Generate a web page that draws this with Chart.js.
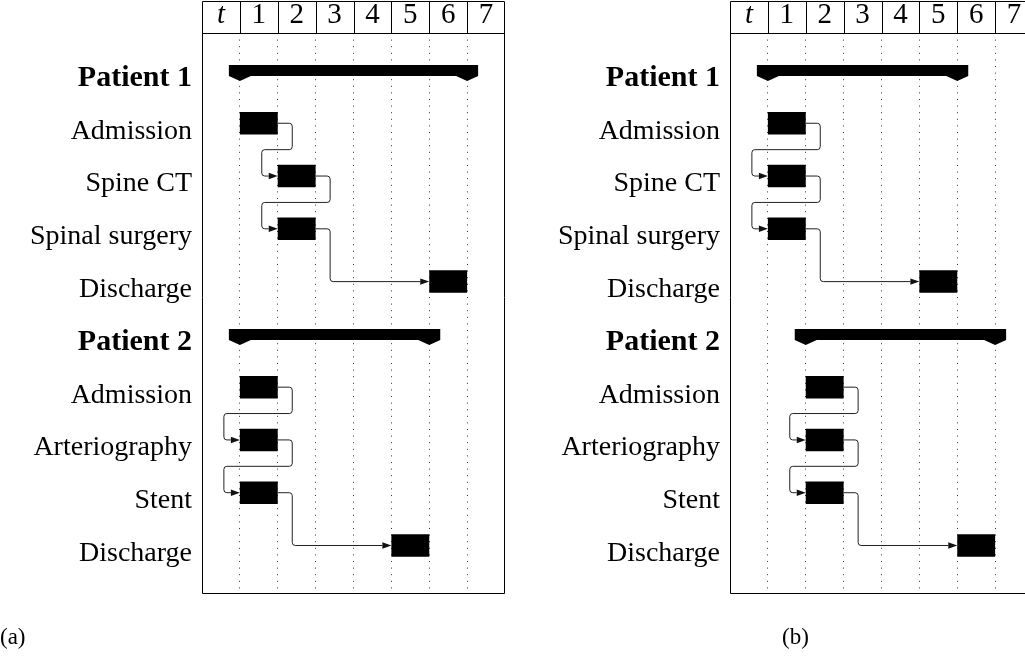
<!DOCTYPE html>
<html>
<head>
<meta charset="utf-8">
<script src="https://cdn.jsdelivr.net/npm/chart.js@4.4.1/dist/chart.umd.min.js"></script>
<style>
  html, body { margin: 0; padding: 0; background: #fff; overflow: hidden; }
  body { width: 1025px; height: 659px; position: relative; }
  canvas { position: absolute; top: 0; }
  #chartA { left: 0; }
  #chartB { left: 528px; }
  .cap { position: absolute; top: 624px; font-family: 'Liberation Serif', serif; font-size: 23px; color: #000; }
</style>
</head>
<body>
<canvas id="chartA" width="515" height="659"></canvas>
<canvas id="chartB" width="515" height="659"></canvas>
<div class="cap" style="left:0">(a)</div>
<div class="cap" style="left:782px">(b)</div>
<script>
// rows of the gantt, top to bottom
const rowLabels = ['Patient 1', 'Admission', 'Spine CT', 'Spinal surgery', 'Discharge',
                   'Patient 2', 'Admission', 'Arteriography', 'Stent', 'Discharge'];
const headerLabels = ['t', '1', '2', '3', '4', '5', '6', '7'];
const groupRows = [0, 5];

// panel (a)
const taskStartA = [null, 1, 2, 2, 6, null, 1, 1, 1, 5];
const taskEndA   = [null, 2, 3, 3, 7, null, 2, 2, 2, 6];
const groupSpanA = [[1, 7], [1, 6]];

// panel (b)
const taskStartB = [null, 1, 1, 1, 5, null, 2, 2, 2, 6];
const taskEndB   = [null, 2, 2, 2, 6, null, 3, 3, 3, 7];
const groupSpanB = [[1, 6], [2, 7]];

// arrows: from one task row to the next one
const links = [[1, 2], [2, 3], [3, 4], [6, 7], [7, 8], [8, 9]];

const FONT = 'Liberation Serif';
const crisp = v => Math.round(v) + 0.5;

function drawLink(ctx, a, b) {
  const x1 = Math.max(a.x, a.base), y1 = a.y;
  const x2 = Math.min(b.x, b.base), y2 = b.y;
  const out = 14.5, back = 16, r = 3, head = 9;
  const xr = x1 + out;
  const pts = [[x1, y1], [xr, y1]];
  if (x2 - xr > 10) {
    pts.push([xr, y2]);
  } else {
    const ym = (y1 + y2) / 2;
    pts.push([xr, ym], [x2 - back, ym], [x2 - back, y2]);
  }
  pts.push([x2 - head, y2]);
  ctx.beginPath();
  ctx.moveTo(pts[0][0], pts[0][1]);
  for (let i = 1; i < pts.length - 1; i++) {
    ctx.arcTo(pts[i][0], pts[i][1], pts[i + 1][0], pts[i + 1][1], r);
  }
  ctx.lineTo(pts[pts.length - 1][0], pts[pts.length - 1][1]);
  ctx.stroke();
  ctx.beginPath();
  ctx.moveTo(x2, y2);
  ctx.lineTo(x2 - head, y2 - 3.2);
  ctx.lineTo(x2 - head, y2 + 3.2);
  ctx.closePath();
  ctx.fill();
}

const ganttDeco = {
  id: 'ganttDeco',
  afterDatasetsDraw(chart) {
    const ctx = chart.ctx;
    const area = chart.chartArea;
    const xs = chart.scales.x;
    const head = chart.scales.xh;
    ctx.save();
    ctx.strokeStyle = '#000';
    ctx.fillStyle = '#000';
    ctx.lineWidth = 1;

    // outer frame and header cells
    const L = crisp(area.left), R = crisp(area.right - 1);
    const T = crisp(head.top), H = crisp(area.top), B = crisp(area.bottom);
    ctx.beginPath();
    ctx.rect(L, T, R - L, B - T);
    ctx.moveTo(L, H); ctx.lineTo(R, H);
    for (let i = 1; i < headerLabels.length; i++) {
      const x = crisp(xs.getPixelForValue(i));
      ctx.moveTo(x, T); ctx.lineTo(x, H);
    }
    ctx.stroke();

    // group bars: widen and add the little pointers at both ends
    const gMeta = chart.getDatasetMeta(1);
    gMeta.data.forEach(el => {
      const s = Math.min(el.x, el.base), e = Math.max(el.x, el.base);
      const top = el.y - el.height / 2, bot = el.y + el.height / 2;
      const ext = 11, drop = 5;
      ctx.beginPath();
      ctx.moveTo(s - ext, top);
      ctx.lineTo(e + ext, top);
      ctx.lineTo(e + ext, bot);
      ctx.lineTo(e, bot + drop);
      ctx.lineTo(e - ext, bot);
      ctx.lineTo(s + ext, bot);
      ctx.lineTo(s, bot + drop);
      ctx.lineTo(s - ext, bot);
      ctx.closePath();
      ctx.fill();
    });

    // arrows between tasks
    const tMeta = chart.getDatasetMeta(0);
    const byRow = {};
    tMeta.data.forEach((el, k) => { byRow[chart.data.datasets[0].data[k].y] = el; });
    ctx.strokeStyle = '#222';
    ctx.fillStyle = '#111';
    links.forEach(([a, b]) => {
      if (byRow[a] && byRow[b]) drawLink(ctx, byRow[a], byRow[b]);
    });
    ctx.restore();
  }
};

function makeChart(id, starts, ends, spans) {
  const taskData = [];
  starts.forEach((s, i) => { if (s !== null) taskData.push({ y: i, x: [s, ends[i]] }); });
  const groupData = spans.map((sp, k) => ({ y: groupRows[k], x: sp }));

  return new Chart(document.getElementById(id), {
    type: 'bar',
    data: {
      datasets: [
        { label: 'tasks', data: taskData, backgroundColor: '#000', borderWidth: 0,
          grouped: false, barPercentage: 1, maxBarThickness: 22.5 },
        { label: 'groups', data: groupData, backgroundColor: '#000', borderWidth: 0,
          grouped: false, barPercentage: 1, maxBarThickness: 11 }
      ]
    },
    options: {
      indexAxis: 'y',
      responsive: false,
      animation: false,
      layout: { padding: { top: 1, right: 10, bottom: 66, left: 0 } },
      plugins: { legend: { display: false }, tooltip: { enabled: false } },
      scales: {
        y: {
          type: 'linear', reverse: true, min: -0.71, max: 9.9, offset: false,
          afterBuildTicks: s => { s.ticks = rowLabels.map((_, i) => ({ value: i })); },
          afterFit: s => { s.width = 202; },
          grid: { display: false, drawTicks: false, offset: false },
          border: { display: false },
          ticks: {
            autoSkip: false, padding: 10, labelOffset: 8, color: '#000',
            font: c => groupRows.includes(c.index)
              ? { family: FONT, size: 30, weight: 'bold' }
              : { family: FONT, size: 28, weight: 'normal' },
            callback: v => rowLabels[v]
          }
        },
        x: {
          type: 'linear', position: 'bottom', min: 0, max: 8,
          afterBuildTicks: s => { s.ticks = headerLabels.slice(1).map((_, i) => ({ value: i + 1 })); },
          afterFit: s => { s.height = 0; },
          ticks: { display: false },
          grid: { color: 'rgba(0,0,0,0.8)', lineWidth: 1, drawTicks: false },
          border: { display: false, dash: [1, 5.6] }
        },
        xh: {
          type: 'linear', axis: 'x', position: 'top', min: 0, max: 8,
          afterBuildTicks: s => { s.ticks = headerLabels.map((_, i) => ({ value: i + 0.5 })); },
          afterFit: s => { s.height = 32; },
          grid: { display: false, drawTicks: false },
          border: { display: false },
          ticks: {
            autoSkip: false, maxRotation: 0, padding: 0, color: '#000',
            font: c => ({ family: FONT, size: 29, style: c.index === 0 ? 'italic' : 'normal' }),
            callback: (v, i) => headerLabels[i]
          }
        }
      }
    },
    plugins: [ganttDeco]
  });
}

makeChart('chartA', taskStartA, taskEndA, groupSpanA);
makeChart('chartB', taskStartB, taskEndB, groupSpanB);
</script>
</body>
</html>
